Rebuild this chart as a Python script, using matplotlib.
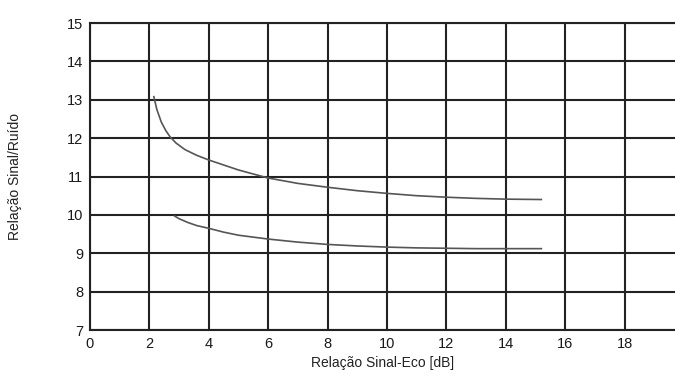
import numpy as np
import matplotlib.pyplot as plt

# Curva superior
x_sup = [2.15, 2.25, 2.4, 2.55, 2.7, 2.9, 3.2, 3.6, 4.0, 4.5, 5.0, 6.0, 7.0, 8.0, 9.0, 10.0, 11.0, 12.0, 13.0, 14.0, 15.2]
y_sup = [13.08, 12.75, 12.42, 12.2, 12.03, 11.87, 11.7, 11.55, 11.43, 11.3, 11.17, 10.96, 10.82, 10.72, 10.63, 10.56, 10.5, 10.46, 10.43, 10.41, 10.4]

# Curva inferior
x_inf = [2.85, 3.0, 3.3, 3.6, 4.0, 4.5, 5.0, 6.0, 7.0, 8.0, 9.0, 10.0, 11.0, 12.0, 13.0, 14.0, 15.2]
y_inf = [9.97, 9.9, 9.8, 9.72, 9.65, 9.55, 9.47, 9.37, 9.29, 9.23, 9.19, 9.16, 9.14, 9.13, 9.12, 9.12, 9.12]

xticks = [0, 2, 4, 6, 8, 10, 12, 14, 16, 18]
yticks = [7, 8, 9, 10, 11, 12, 13, 14, 15]

plt.rcParams['font.family'] = ['Liberation Sans', 'DejaVu Sans']

fig = plt.figure(figsize=(6.75, 3.8), dpi=100)
ax = fig.add_axes([90 / 675, 50 / 380, 585 / 675, 307 / 380])

ax.plot(x_sup, y_sup, color='#555555', lw=1.2)
ax.plot(x_inf, y_inf, color='#555555', lw=1.2)

ax.set_xlim(0, 19.7)
ax.set_ylim(7, 15)
ax.set_xticks(xticks)
ax.set_yticks(yticks)
ax.tick_params(length=0, labelsize=10.5, colors='#1a1a1a', pad=5)
ax.grid(True, color='#222222', lw=1.5)
ax.set_axisbelow(True)
for s in ['top', 'left', 'bottom']:
    ax.spines[s].set_color('#222222')
    ax.spines[s].set_linewidth(1.5)
ax.spines['right'].set_visible(False)

ax.set_xlabel('Relação Sinal-Eco [dB]', fontsize=10, color='#222222', labelpad=4)
ax.set_ylabel('Relação Sinal/Ruído', fontsize=10, color='#222222', labelpad=32)

fig.savefig('out.png', dpi=100)
